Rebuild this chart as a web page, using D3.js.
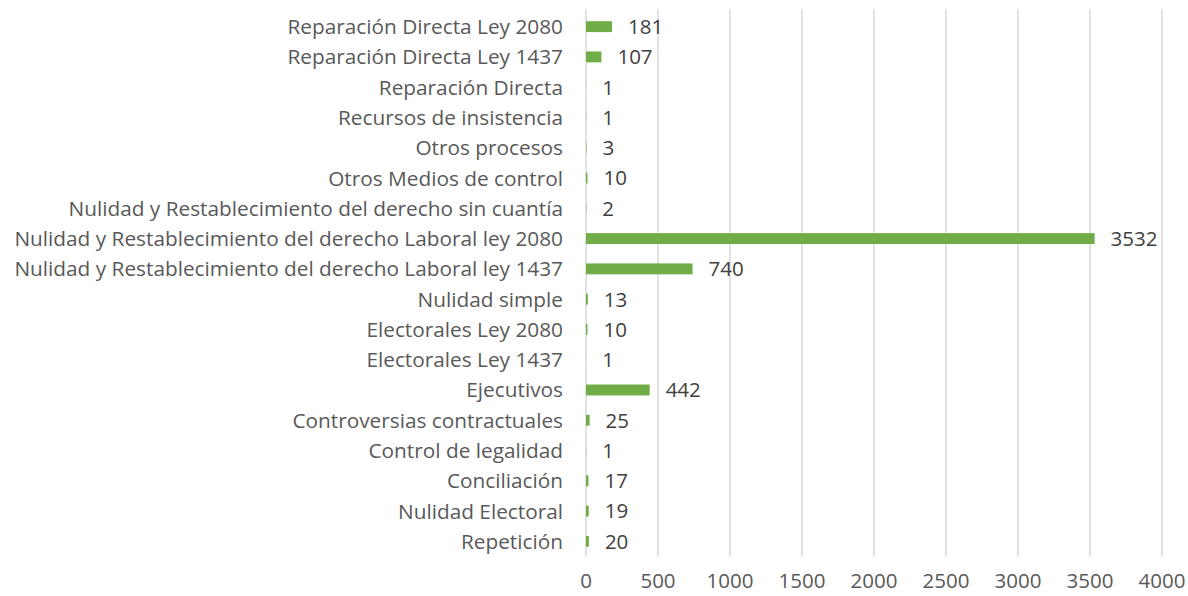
<!DOCTYPE html>
<html>
<head>
<meta charset="utf-8">
<script src="https://cdn.jsdelivr.net/npm/d3@7"></script>
<style>
  body { margin: 0; background: #fff; }
  text { font-family: "Open Sans", "Liberation Sans", sans-serif; }
</style>
</head>
<body>
<div id="chart"></div>
<script>
// categories top -> bottom
var categories = [
  "Reparación Directa Ley 2080",
  "Reparación Directa Ley 1437",
  "Reparación Directa",
  "Recursos de insistencia",
  "Otros procesos",
  "Otros Medios de control",
  "Nulidad y Restablecimiento del derecho sin cuantía",
  "Nulidad y Restablecimiento del derecho Laboral ley 2080",
  "Nulidad y Restablecimiento del derecho Laboral ley 1437",
  "Nulidad simple",
  "Electorales Ley 2080",
  "Electorales Ley 1437",
  "Ejecutivos",
  "Controversias contractuales",
  "Control de legalidad",
  "Conciliación",
  "Nulidad Electoral",
  "Repetición"
];
var values = [181, 107, 1, 1, 3, 10, 2, 3532, 740, 13, 10, 1, 442, 25, 1, 17, 19, 20];
var xTicks = [0, 500, 1000, 1500, 2000, 2500, 3000, 3500, 4000];

var width = 1188, height = 596;
var margin = {top: 11.5, right: 26, bottom: 39.5, left: 586};

var svg = d3.select("#chart").append("svg")
    .attr("width", width)
    .attr("height", height);

var x = d3.scaleLinear()
    .domain([0, 4000])
    .range([margin.left, width - margin.right]);

var y = d3.scaleBand()
    .domain(categories)
    .range([margin.top, height - margin.bottom])
    .paddingInner(0.64)
    .paddingOuter(0.32);

// gridlines
svg.append("g").selectAll("line")
    .data(xTicks)
  .enter().append("line")
    .attr("x1", function(d) { return x(d); })
    .attr("x2", function(d) { return x(d); })
    .attr("y1", margin.top - 2)
    .attr("y2", height - margin.bottom)
    .attr("stroke", "#d9d9d9")
    .attr("stroke-width", 1.5);

// x tick labels
svg.append("g").selectAll("text")
    .data(xTicks)
  .enter().append("text")
    .attr("x", function(d) { return x(d); })
    .attr("y", 588)
    .attr("text-anchor", "middle")
    .attr("font-size", 20.5)
    .attr("fill", "#595959")
    .text(function(d) { return d; });

// bars
svg.append("g").selectAll("rect")
    .data(values)
  .enter().append("rect")
    .attr("x", x(0))
    .attr("y", function(d, i) { return y(categories[i]); })
    .attr("width", function(d) { return x(d) - x(0); })
    .attr("height", y.bandwidth())
    .attr("fill", "#70ad47");

// value labels
svg.append("g").selectAll("text")
    .data(values)
  .enter().append("text")
    .attr("x", function(d) { return x(d) + 16; })
    .attr("y", function(d, i) { return y(categories[i]) + y.bandwidth() / 2; })
    .attr("dy", "0.36em")
    .attr("font-size", 20.5)
    .attr("fill", "#404040")
    .text(function(d) { return d; });

// category labels
svg.append("g").selectAll("text")
    .data(categories)
  .enter().append("text")
    .attr("x", 563)
    .attr("y", function(d) { return y(d) + y.bandwidth() / 2; })
    .attr("dy", "0.36em")
    .attr("text-anchor", "end")
    .attr("font-size", 20.8)
    .attr("fill", "#595959")
    .text(function(d) { return d; });
</script>
</body>
</html>
